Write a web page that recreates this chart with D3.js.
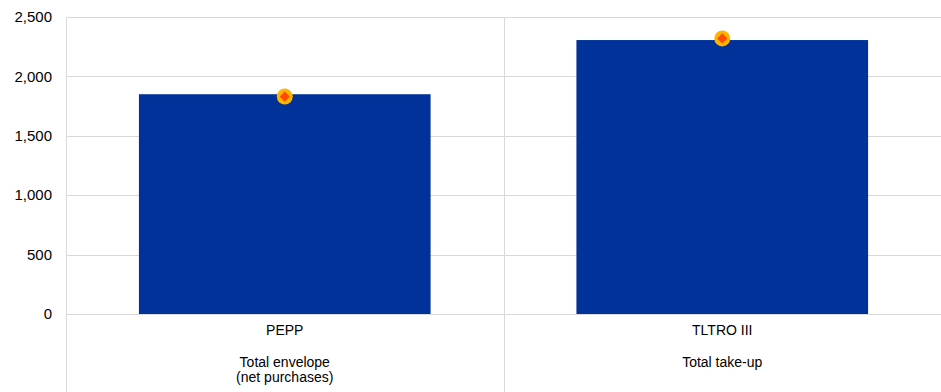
<!DOCTYPE html>
<html>
<head>
<meta charset="utf-8">
<script src="https://cdn.jsdelivr.net/npm/d3@7"></script>
<style>
html,body{margin:0;padding:0;background:#fff;}
svg{display:block;font-family:"Liberation Sans",Arial,sans-serif;}
</style>
</head>
<body>
<svg id="chart" width="941" height="392"></svg>
<script>
const categories = ["PEPP", "TLTRO III"];
const subLabels = [["Total envelope", "(net purchases)"], ["Total take-up"]];
const barValues = [1850, 2306];
const markerValues = [1830, 2320];
const yTicks = [0, 500, 1000, 1500, 2000, 2500];

const svg = d3.select("#chart");
const margin = {left: 66, right: 0, top: 17, zero: 314};
const W = 941, H = 392;

const x = d3.scaleBand().domain(categories).range([margin.left, W]).paddingInner(0).paddingOuter(0);
const y = d3.scaleLinear().domain([0, 2500]).range([margin.zero, margin.top]);

const grid = "#d9d9d9";

// gridlines
svg.append("g").selectAll("line").data(yTicks).join("line")
  .attr("x1", margin.left).attr("x2", W)
  .attr("y1", d => Math.round(y(d)) + 0.5).attr("y2", d => Math.round(y(d)) + 0.5)
  .attr("stroke", grid).attr("stroke-width", 1);

// y labels
const fmt = d3.format(",");
svg.append("g").selectAll("text").data(yTicks).join("text")
  .attr("x", 52).attr("y", d => y(d)).attr("dy", "0.35em")
  .attr("text-anchor", "end").attr("font-size", 15).attr("fill", "#000")
  .text(d => fmt(d));

// vertical lines: left axis and category separator
const vx = [margin.left, x(categories[1])];
svg.append("g").selectAll("line").data(vx).join("line")
  .attr("x1", d => Math.round(d) + 0.5).attr("x2", d => Math.round(d) + 0.5)
  .attr("y1", margin.top).attr("y2", H)
  .attr("stroke", grid).attr("stroke-width", 1);

// bars
const bw = x.bandwidth() * 2 / 3;
svg.append("g").selectAll("rect").data(barValues).join("rect")
  .attr("x", (d, i) => x(categories[i]) + (x.bandwidth() - bw) / 2)
  .attr("width", bw)
  .attr("y", d => y(d))
  .attr("height", d => y(0) - y(d))
  .attr("fill", "#003299");

// markers
const mg = svg.append("g");
markerValues.forEach((v, i) => {
  const cx = x(categories[i]) + x.bandwidth() / 2;
  const cy = y(v);
  mg.append("circle").attr("cx", cx).attr("cy", cy).attr("r", 8).attr("fill", "#ffb400");
  mg.append("path")
    .attr("d", d3.symbol().type(d3.symbolDiamond2).size(66)())
    .attr("transform", `translate(${cx},${cy})`)
    .attr("fill", "#ff4b00");
});

// category labels
const cg = svg.append("g");
categories.forEach((c, i) => {
  const cx = x(c) + x.bandwidth() / 2;
  cg.append("text").attr("x", cx).attr("y", 335).attr("text-anchor", "middle")
    .attr("font-size", 14).attr("fill", "#000").text(c);
  subLabels[i].forEach((s, j) => {
    cg.append("text").attr("x", cx).attr("y", 367 + j * 15).attr("text-anchor", "middle")
      .attr("font-size", 14).attr("fill", "#000").text(s);
  });
});
</script>
</body>
</html>
